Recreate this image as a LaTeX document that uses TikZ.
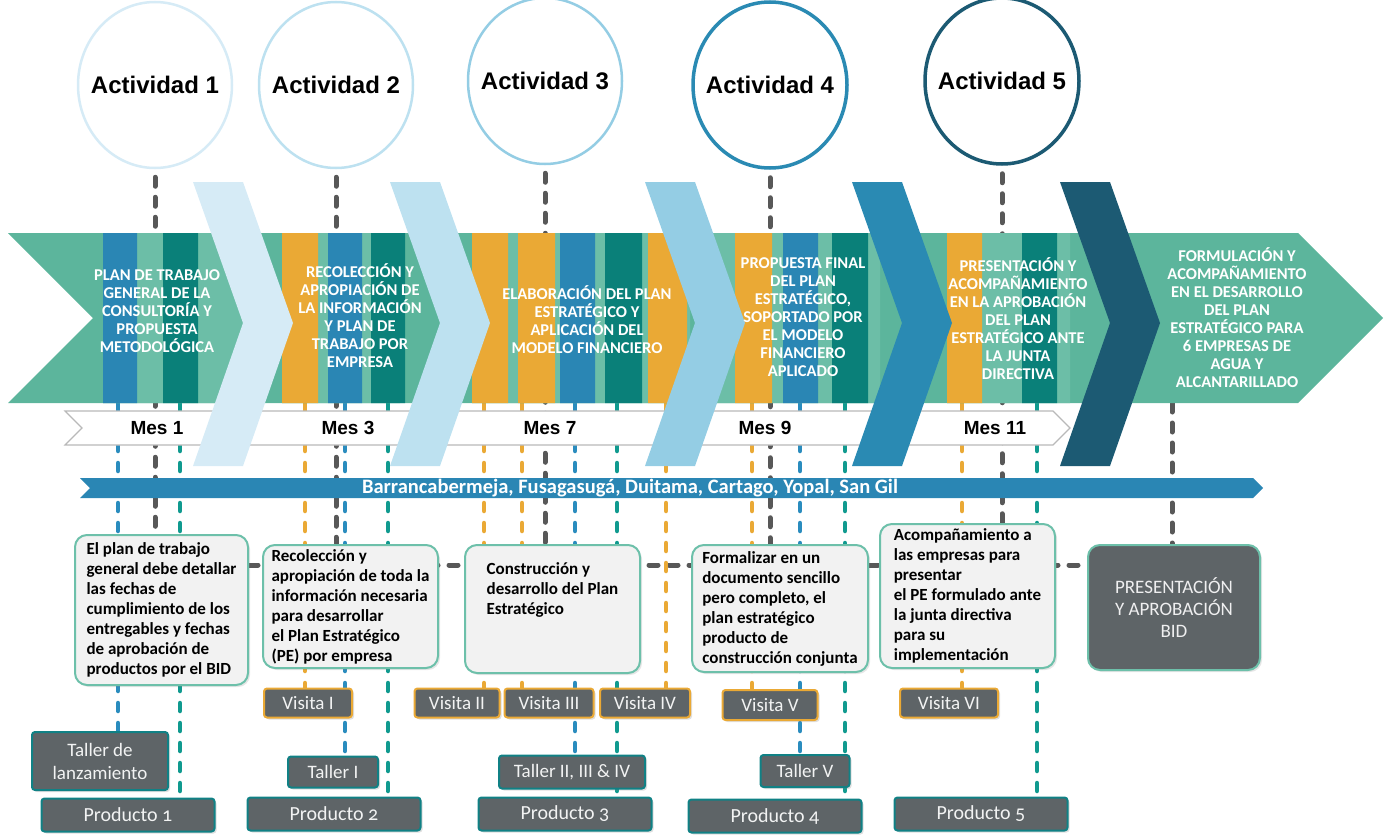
\documentclass[tikz,border=0pt]{standalone}
\usepackage{fontspec}
\setmainfont{Carlito}
\newfontfamily\arialf{Liberation Sans}
\newfontfamily\prodf[Numbers=OldStyle]{Carlito}
\definecolor{pemint}{RGB}{92,181,156}
\definecolor{pemintlt}{RGB}{108,190,167}
\definecolor{peblue}{RGB}{42,134,180}
\definecolor{peteal}{RGB}{10,128,121}
\definecolor{peorange}{RGB}{234,169,53}
\definecolor{pegray}{RGB}{88,88,88}
\definecolor{pedark}{RGB}{94,100,103}
\definecolor{pebox}{RGB}{242,242,242}
\definecolor{peborder}{RGB}{109,192,170}
\definecolor{petealln}{RGB}{16,154,143}
\definecolor{peblueln}{RGB}{42,140,190}
\definecolor{pechevA}{RGB}{214,235,246}
\definecolor{pechevB}{RGB}{189,225,240}
\definecolor{pechevC}{RGB}{148,205,228}
\definecolor{pechevD}{RGB}{42,138,179}
\definecolor{pechevE}{RGB}{28,90,115}
\usepackage{tikz}
\usetikzlibrary{positioning,shapes.geometric,backgrounds,shadows}

\begin{document}
\begin{tikzpicture}[x=1pt,y=-1pt,
  actcirc/.style={ellipse,inner sep=0pt,minimum width=154pt,minimum height=166pt,line width=2.5pt,fill=white,font=\arialf\bfseries\fontsize{24}{28}\selectfont},
  bandtxt/.style={text=white,align=center,font=\bfseries\fontsize{16.5}{18}\selectfont},
  mestxt/.style={font=\arialf\bfseries\fontsize{19}{22}\selectfont},
  notebox/.style={draw=peborder,fill=pebox,line width=2pt,rounded corners=12pt,align=left,inner sep=4pt,font=\bfseries\fontsize{17}{20}\selectfont,drop shadow={opacity=0.2,shadow xshift=2pt,shadow yshift=-2pt}},
  darkbox/.style={fill=pedark,text=white!92!pedark,line width=2pt,rounded corners=3pt,inner sep=0pt,align=center,font=\fontsize{19}{23}\selectfont,drop shadow={opacity=0.25,shadow xshift=2pt,shadow yshift=-2pt}},
  visita/.style={darkbox,draw=peorange,minimum height=29pt},
  taller/.style={darkbox,draw=peteal!80!peblue},
  producto/.style={darkbox,draw=peteal!80!peblue,minimum width=173pt,minimum height=33pt,font=\prodf\fontsize{20}{24}\selectfont},
  graydash/.style={pegray,line width=5pt,dash pattern=on 9pt off 11pt,line cap=round},
  bluedash/.style={peblueln,line width=4.5pt,dash pattern=on 8pt off 12pt,line cap=round},
  tealdash/.style={petealln,line width=4.5pt,dash pattern=on 8pt off 12pt,line cap=round},
  orangedash/.style={peorange,line width=4.5pt,dash pattern=on 8pt off 12pt,line cap=round}]
  \useasboundingbox (0,0) rectangle (1385,835);

  % actividades
  \node[actcirc,draw=pechevA] (act1) at (155,85) {\makebox[0pt]{Actividad 1}};
  \node[actcirc,draw=pechevB] (act2) at (336,85) {\makebox[0pt]{Actividad 2}};
  \node[actcirc,draw=pechevC] (act3) at (545,81) {\makebox[0pt]{Actividad 3}};
  \node[actcirc,draw=pechevD,line width=3.5pt] (act4) at (770,85) {\makebox[0pt]{Actividad 4}};
  \node[actcirc,draw=pechevE,line width=3.5pt] (act5) at (1002,81) {\makebox[0pt]{Actividad 5}};

  % banda principal
  \fill[pemint] (8,233) -- (1298,233) -- (1383,318) -- (1298,403) -- (8,403) -- (93,318) -- cycle;
  \fill[pemintlt] (103,233) rectangle (250,403) (282,233) rectangle (400,403) (472,233) rectangle (690,403)
    (710,233) rectangle (880,403) (947,233) rectangle (1070,403);
  \fill[peblue] (103,233) rectangle (137,403) (328,233) rectangle (362,403) (560,233) rectangle (595,403)
    (783,233) rectangle (818,403);
  \fill[peteal] (163,233) rectangle (198,403) (371,233) rectangle (405,403) (605,233) rectangle (642,403)
    (832,233) rectangle (868,403) (1022,233) rectangle (1057,403);
  \fill[peorange] (282,233) rectangle (318,403) (472,233) rectangle (508,403) (518,233) rectangle (555,403)
    (648,233) rectangle (687,403) (735,233) rectangle (772,403) (947,233) rectangle (982,403);

  % meses
  \draw[gray!55,line width=1.2pt,fill=white] (65,411) -- (1053,411) -- (1070,428) -- (1053,445) -- (65,445) -- (82,428) -- cycle;
  \node[mestxt] (mes1) at (157,428) {Mes 1};
  \node[mestxt] (mes3) at (348,428) {Mes 3};
  \node[mestxt] (mes7) at (550,428) {Mes 7};
  \node[mestxt] (mes9) at (765,428) {Mes 9};
  \node[mestxt] (mes11) at (995,428) {Mes 11};

  % chevrons
  \fill[pechevA] (193,182) -- ++(50,0) -- ++(50,141) -- ++(-50,143) -- ++(-50,0) -- ++(50,-143) -- cycle;
  \fill[pechevB] (390,182) -- ++(50,0) -- ++(50,141) -- ++(-50,143) -- ++(-50,0) -- ++(50,-143) -- cycle;
  \fill[pechevC] (645,182) -- ++(50,0) -- ++(50,141) -- ++(-50,143) -- ++(-50,0) -- ++(50,-143) -- cycle;
  \fill[pechevD] (852,182) -- ++(50,0) -- ++(50,141) -- ++(-50,143) -- ++(-50,0) -- ++(50,-143) -- cycle;
  \fill[pechevE] (1060,182) -- ++(50,0) -- ++(50,141) -- ++(-50,143) -- ++(-50,0) -- ++(50,-143) -- cycle;

  \node[bandtxt] (fase1) at (157,311) {PLAN DE TRABAJO\\GENERAL DE LA\\CONSULTORÍA Y\\PROPUESTA\\METODOLÓGICA};
  \node[bandtxt] (fase2) at (360,316) {RECOLECCIÓN Y\\APROPIACIÓN DE\\LA INFORMACIÓN\\Y PLAN DE\\TRABAJO POR\\EMPRESA};
  \node[bandtxt] (fase3) at (587,320) {ELABORACIÓN DEL PLAN\\ESTRATÉGICO Y\\APLICACIÓN DEL\\MODELO FINANCIERO};
  \node[bandtxt] (fase4) at (803,317) {PROPUESTA FINAL\\DEL PLAN\\ESTRATÉGICO,\\SOPORTADO POR\\EL MODELO\\FINANCIERO\\APLICADO};
  \node[bandtxt] (fase5) at (1018,319) {PRESENTACIÓN Y\\ACOMPAÑAMIENTO\\EN LA APROBACIÓN\\DEL PLAN\\ESTRATÉGICO ANTE\\LA JUNTA\\DIRECTIVA};
  \node[bandtxt] (fase6) at (1237,318) {FORMULACIÓN Y\\ACOMPAÑAMIENTO\\EN EL DESARROLLO\\DEL PLAN\\ESTRATÉGICO PARA\\6 EMPRESAS DE\\AGUA Y\\ALCANTARILLADO};

  % ciudades
  \fill[peblue] (80,478) -- (1253,478) -- (1263,488) -- (1253,498) -- (80,498) -- (90,488) -- cycle;
  \node[text=white,font=\bfseries\fontsize{20.5}{22}\selectfont] (city) at (630,488) {Barrancabermeja, Fusagasugá, Duitama, Cartago, Yopal, San Gil};

  % descripciones
  \node[notebox,minimum width=173pt,minimum height=150pt] (box1) at (161.5,610) {El plan de trabajo\\general debe detallar\\las fechas de\\cumplimiento de los\\entregables y fechas\\de aprobación de\\productos por el BID};
  \node[notebox,minimum width=175pt,minimum height=123pt] (box2) at (350.5,606.5) {Recolección y\\apropiación de toda la\\información necesaria\\para desarrollar\\el Plan Estratégico\\(PE) por empresa};
  \node[notebox,minimum width=175pt,minimum height=128pt] (box3) at (552.5,609) {Construcción y\\desarrollo del Plan\\Estratégico\\\mbox{}\\\mbox{}};
  \node[notebox,minimum width=176pt,minimum height=127pt] (box4) at (780,608.5) {Formalizar en un\\documento sencillo\\pero completo, el\\plan estratégico\\producto de\\construcción conjunta};
  \node[notebox,minimum width=175pt,minimum height=144pt] (box5) at (967.5,596) {Acompañamiento a\\las empresas para\\presentar\\el PE formulado ante\\la junta directiva\\para su\\implementación};
  \node[notebox,fill=pedark,text=white!90!pedark,align=center,font=\fontsize{19}{22}\selectfont,minimum width=172pt,minimum height=125pt] (bid) at (1174,607.5) {PRESENTACIÓN\\Y APROBACIÓN\\BID};

  % visitas, talleres, productos
  \node[visita,minimum width=88pt] (v1) at (308,703) {Visita I};
  \node[visita,minimum width=85pt] (v2) at (457,703) {Visita II};
  \node[visita,minimum width=89pt] (v3) at (549,703) {Visita III};
  \node[visita,minimum width=90pt] (v4) at (645,703) {Visita IV};
  \node[visita,minimum width=95pt,minimum height=30pt] (v5) at (770,705) {Visita V};
  \node[visita,minimum width=98pt] (v6) at (949,703) {Visita VI};
  \node[taller,minimum width=136pt,minimum height=58pt] (tl) at (100,761) {Taller de\\lanzamiento};
  \node[taller,minimum width=90pt,minimum height=31pt] (t1) at (333,772) {Taller I};
  \node[taller,minimum width=146pt,minimum height=33pt] (t2) at (572,772) {Taller II, III \& IV};
  \node[taller,minimum width=89pt,minimum height=32pt] (t5) at (805,771) {Taller V};
  \node[producto] (p1) at (128,815) {Producto 1};
  \node[producto] (p2) at (334,814) {Producto 2};
  \node[producto] (p3) at (565,814) {Producto 3};
  \node[producto] (p4) at (775,816) {Producto 4};
  \node[producto] (p5) at (981,814) {Producto 5};

  % conectores
  \coordinate (fila) at (0,565);
  \coordinate (fin) at (1172,403);
  \coordinate (blu1) at (118,403);
  \coordinate (blu2) at (345,403);
  \coordinate (blu3) at (575,403);
  \coordinate (blu4) at (800,403);
  \coordinate (tea1) at (180,403);
  \coordinate (tea2) at (388,403);
  \coordinate (tea3) at (617,403);
  \coordinate (tea4) at (845,403);
  \coordinate (tea5) at (1037,403);
  \coordinate (ora1) at (305,403);
  \coordinate (ora2) at (484,403);
  \coordinate (ora3) at (522,403);
  \coordinate (ora4) at (666,403);
  \coordinate (ora5) at (752,403);
  \coordinate (ora6) at (962,403);
  \begin{scope}[on background layer]
    \draw[graydash,shorten <=8pt] (act1.south) -- (act1.south |- box1.north);
    \draw[graydash,shorten <=8pt] (act2.south) -- (act2.south |- box2.north);
    \draw[graydash,shorten <=8pt] (act3.south) -- (act3.south |- box3.north);
    \draw[graydash,shorten <=8pt] (act4.south) -- (act4.south |- box4.north);
    \draw[graydash,shorten <=8pt] (act5.south) -- (act5.south |- box5.north);
    \draw[graydash] (fin) -- (fin |- bid.north);
    \draw[graydash] (box1.east |- fila) -- (bid.west |- fila);
    \draw[bluedash] (blu1) -- (blu1 |- tl.north);
    \draw[bluedash] (blu2) -- (blu2 |- t1.north);
    \draw[bluedash] (blu3) -- (blu3 |- t2.north);
    \draw[bluedash] (blu4) -- (blu4 |- t5.north);
    \draw[tealdash] (tea1) -- (tea1 |- p1.north);
    \draw[tealdash] (tea2) -- (tea2 |- p2.north);
    \draw[tealdash] (tea3) -- (tea3 |- p3.north);
    \draw[tealdash] (tea4) -- (tea4 |- p4.north);
    \draw[tealdash] (tea5) -- (tea5 |- p5.north);
    \draw[orangedash] (ora1) -- (ora1 |- v1.north);
    \draw[orangedash] (ora2) -- (ora2 |- v2.north);
    \draw[orangedash] (ora3) -- (ora3 |- v3.north);
    \draw[orangedash] (ora4) -- (ora4 |- v4.north);
    \draw[orangedash] (ora5) -- (ora5 |- v5.north);
    \draw[orangedash] (ora6) -- (ora6 |- v6.north);
  \end{scope}
\end{tikzpicture}
\end{document}
